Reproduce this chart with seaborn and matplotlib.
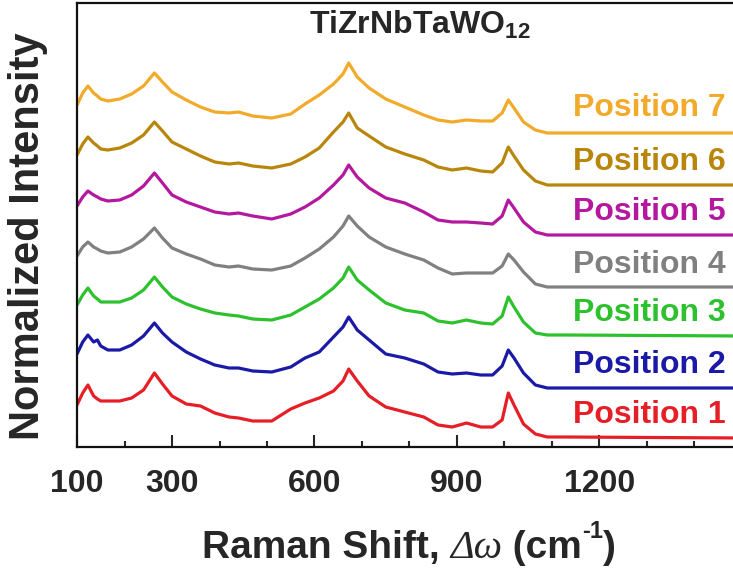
import matplotlib
matplotlib.use("Agg")
import matplotlib.pyplot as plt
import seaborn as sns
import pandas as pd
from matplotlib.ticker import FixedLocator

# ---- data ----
raman_shift = [100, 112, 123, 135, 143, 150, 165, 190, 215, 240, 263, 280, 300, 330,
               360, 390, 420, 440, 470, 510, 550, 580, 610, 640, 660, 672, 690, 715,
               750, 790, 830, 860, 890, 920, 950, 975, 995, 1008, 1020, 1040, 1065,
               1090, 1130, 1500]

pos1 = [42, 54, 62, 51, 48, 46, 46, 46, 49, 57, 74, 63, 51, 43, 41, 34, 30, 29, 26, 26,
        38, 44, 49, 56, 66, 78, 66, 51, 40, 35, 30, 22, 20, 24, 20, 20, 27, 54, 42, 23,
        13, 10, 10, 9]
pos2 = [93, 105, 112, 105, 107, 101, 97, 97, 102, 111, 124, 114, 105, 95, 88, 82, 79, 79,
        76, 75, 80, 89, 95, 110, 120, 130, 117, 107, 93, 89, 83, 75, 73, 74, 72, 72, 81,
        97, 89, 74, 62, 59, 59, 59]
pos3 = [142, 152, 159, 151, 148, 145, 145, 145, 149, 157, 170, 160, 150, 143, 138, 134,
        132, 131, 128, 127, 132, 140, 148, 159, 169, 180, 167, 157, 144, 137, 134, 126,
        124, 127, 124, 123, 131, 150, 140, 125, 114, 112, 112, 111]
pos4 = [191, 200, 205, 200, 198, 196, 194, 195, 200, 208, 219, 209, 199, 193, 188, 182,
        180, 181, 178, 177, 181, 189, 198, 210, 221, 231, 221, 210, 200, 193, 187, 179,
        173, 174, 174, 174, 181, 193, 187, 175, 163, 160, 160, 160]
pos5 = [241, 250, 256, 252, 250, 248, 246, 247, 252, 261, 274, 264, 252, 245, 240, 235,
        233, 234, 231, 228, 233, 240, 249, 262, 272, 282, 270, 259, 249, 244, 235, 227,
        225, 225, 224, 223, 231, 247, 239, 225, 215, 212, 212, 212]
pos6 = [292, 303, 310, 304, 301, 298, 297, 299, 304, 312, 325, 316, 305, 298, 291, 285,
        283, 284, 281, 279, 283, 290, 299, 315, 325, 334, 319, 311, 300, 293, 287, 280,
        277, 279, 276, 275, 284, 300, 291, 277, 266, 262, 262, 262]
pos7 = [342, 354, 361, 354, 351, 348, 346, 348, 353, 361, 374, 365, 355, 347, 340, 335,
        334, 335, 331, 329, 333, 343, 352, 363, 373, 384, 370, 359, 348, 340, 332, 327,
        325, 327, 326, 326, 334, 347, 339, 325, 317, 314, 314, 314]

positions = ["Position 1", "Position 2", "Position 3", "Position 4",
             "Position 5", "Position 6", "Position 7"]
spectra = [pos1, pos2, pos3, pos4, pos5, pos6, pos7]
colors = ["#e61e25", "#1a1aa6", "#2ec12e", "#808080", "#b3189f", "#b8860b", "#f2aa2a"]

major_ticks = [100, 300, 600, 900, 1200, 1500]
major_labels = ["100", "300", "600", "900", "1200", ""]
minor_ticks = [200, 400, 500, 700, 800, 1000, 1100, 1300, 1400]

# label placement (layout only)
label_y = [32, 82, 134, 182, 235, 285, 339]

# ---- build long table ----
rows = []
for name, vals in zip(positions, spectra):
    for x, y in zip(raman_shift, vals):
        rows.append({"shift": x, "intensity": y, "pos": name})
df = pd.DataFrame(rows)

sns.set_style("white")
plt.rcParams["font.family"] = ["Liberation Sans", "DejaVu Sans"]
plt.rcParams["font.weight"] = "bold"
plt.rcParams["mathtext.fontset"] = "custom"
plt.rcParams["mathtext.rm"] = "Liberation Sans:bold"
plt.rcParams["mathtext.bf"] = "Liberation Sans:bold"

W, H = 733, 571
fig = plt.figure(figsize=(W / 100, H / 100), dpi=100)
ax = fig.add_axes([77 / W, 124 / H, 665 / W, 444 / H])

sns.lineplot(data=df, x="shift", y="intensity", hue="pos", hue_order=positions,
             palette=dict(zip(positions, colors)), estimator=None, sort=False,
             linewidth=2.3, legend=False, ax=ax)

ax.set_xlim(100, 1500)
ax.set_ylim(0, 444)
ax.xaxis.set_major_locator(FixedLocator(major_ticks))
ax.xaxis.set_minor_locator(FixedLocator(minor_ticks))
ax.set_xticklabels(major_labels)
ax.set_yticks([])
ax.tick_params(axis="x", which="major", direction="in", length=8.5, width=1.5,
               labelsize=23, pad=16, bottom=True)
ax.tick_params(axis="x", which="minor", direction="in", length=4.5, width=1.5, bottom=True)
for lab in ax.get_xticklabels():
    lab.set_fontweight("bold")
for side in ["left", "bottom", "top"]:
    ax.spines[side].set_linewidth(1.6)
    ax.spines[side].set_color("#111111")
ax.spines["right"].set_visible(False)
ax.set_xlabel("")
ax.set_ylabel("")

for name, c, yy in zip(positions, colors, label_y):
    ax.text(1466, yy, name, color=c, fontsize=23, fontweight="bold",
            ha="right", va="center")

fig.text(420 / W, 1 - 25 / H, r"TiZrNbTaWO$_{\mathbf{12}}$", fontsize=23,
         fontweight="bold", ha="center", va="center")
fig.text(28 / W, 1 - 236 / H, "Normalized Intensity", fontsize=30,
         fontweight="bold", rotation=90, ha="center", va="center")

# x-axis title built from pieces (sans bold + serif italic + superscript)
base_y = 1 - 558 / H
sans = dict(family=["Liberation Sans", "DejaVu Sans"], fontweight="bold", fontsize=28)
serif_it = dict(family=["Liberation Serif", "DejaVu Serif"], style="italic",
                fontweight="normal", fontsize=29)
sup = dict(family=["Liberation Sans", "DejaVu Sans"], fontweight="bold", fontsize=17)
pieces = [("Raman Shift, ", sans, 0), ("\u0394\u03c9", serif_it, 0),
          (" (cm", sans, 0), ("-1", sup, 20), (")", sans, 0)]
fig.canvas.draw()
renderer = fig.canvas.get_renderer()
texts, widths = [], []
for s, props, dy in pieces:
    t = fig.text(0, base_y + dy / H, s, ha="left", va="baseline", **props)
    texts.append(t)
    widths.append(t.get_window_extent(renderer).width)
total = sum(widths)
x = 409 - total / 2
for t, w in zip(texts, widths):
    t.set_x(x / W)
    x += w

fig.savefig("out.png", dpi=100)
